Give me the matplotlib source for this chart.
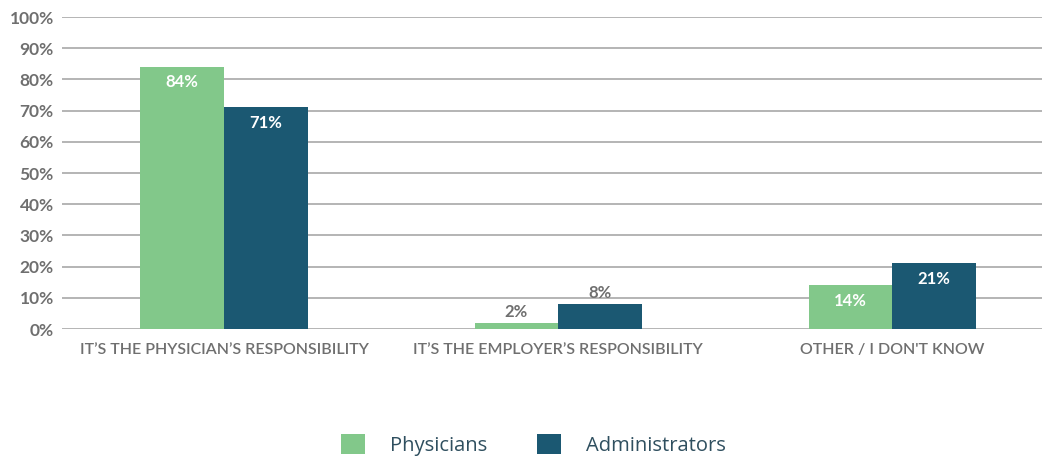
import matplotlib.pyplot as plt
import numpy as np

categories = ["IT\u2019S THE PHYSICIAN\u2019S RESPONSIBILITY",
              "IT\u2019S THE EMPLOYER\u2019S RESPONSIBILITY",
              "OTHER / I DON'T KNOW"]
physicians = [84, 2, 14]
administrators = [71, 8, 21]
series_names = ["Physicians", "Administrators"]

green = "#82c88a"
navy = "#1b5872"
grey = "#6f6f6f"

fig = plt.figure(figsize=(10.42, 4.61), dpi=100)
ax = fig.add_axes([62 / 1042, 1 - 329 / 461, 1 - 62 / 1042, (329 - 17) / 461])

x = np.arange(len(categories))
w = 0.25
b1 = ax.bar(x - w / 2, physicians, w, color=green, zorder=3, label=series_names[0])
b2 = ax.bar(x + w / 2, administrators, w, color=navy, zorder=3, label=series_names[1])

for bars, vals in [(b1, physicians), (b2, administrators)]:
    for r, v in zip(bars, vals):
        cx = r.get_x() + r.get_width() / 2
        if v >= 10:
            ax.text(cx, v - 2.4, f"{v}%", ha="center", va="top", color="white",
                    fontsize=12, fontweight="bold", family="Lato", zorder=4)
        else:
            ax.text(cx, v + 1.0, f"{v}%", ha="center", va="bottom", color=grey,
                    fontsize=12, fontweight="bold", family="Lato", zorder=4)

ax.set_xlim(-0.485, 2.449)
ax.set_ylim(0, 100)
ax.set_yticks(np.arange(0, 101, 10))
ax.set_yticklabels([f"{t}%" for t in range(0, 101, 10)])
ax.set_xticks(x)
ax.set_xticklabels(categories)
ax.grid(axis="y", color="#a0a0a0", linewidth=1.1, zorder=0)
for s in ax.spines.values():
    s.set_visible(False)
ax.tick_params(axis="both", length=0)
ax.tick_params(axis="y", pad=6)
ax.tick_params(axis="x", pad=10)
for lbl in ax.get_yticklabels():
    lbl.set_family("Lato")
    lbl.set_fontweight("bold")
    lbl.set_fontsize(12.5)
    lbl.set_color(grey)
for lbl in ax.get_xticklabels():
    lbl.set_family("Lato")
    lbl.set_fontweight("semibold")
    lbl.set_fontsize(11.5)
    lbl.set_color(grey)

leg = fig.legend(handles=[b1, b2], labels=series_names, loc="center",
                 bbox_to_anchor=(0.512, 1 - 445 / 461), ncol=2, frameon=False,
                 handlelength=1.15, handleheight=1.15, handletextpad=1.25,
                 columnspacing=2.5, prop={"family": "Open Sans", "size": 14.5})
for t in leg.get_texts():
    t.set_color("#2f4f5f")

fig.savefig("out.png", dpi=100)
